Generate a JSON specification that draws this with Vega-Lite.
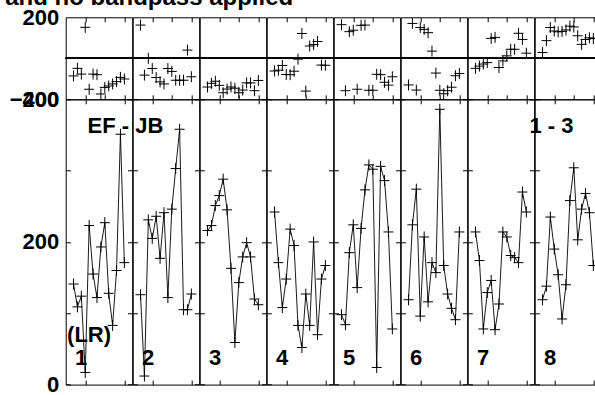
{
  "$schema": "https://vega.github.io/schema/vega-lite/v6.json",
  "autosize": {"type": "none"},
  "padding": {"left": 65.7, "top": 17.3, "right": 529.3, "bottom": 377.7},
  "background": "white",
  "title": {"text": "and no bandpass applied", "anchor": "start", "font": "Liberation Sans", "fontSize": 24, "fontWeight": "bold", "color": "black", "baseline": "alphabetic", "offset": 0, "dx": -4, "dy": 23},
  "config": {
    "font": "Liberation Sans",
    "view": {"stroke": "black", "strokeWidth": 1},
    "axis": {"labelFont": "Liberation Sans", "labelFontSize": 22, "labelFontWeight": "bold", "labelColor": "black", "labelOverlap": false}
  },
  "datasets": {
    "vis": [
      {"IF":1,"ch":2,"amp":141,"phase":-86},{"IF":1,"ch":3,"amp":109,"phase":-49},{"IF":1,"ch":4,"amp":124,"phase":-77},{"IF":1,"ch":5,"amp":17,"phase":151},{"IF":1,"ch":6,"amp":223,"phase":-151},{"IF":1,"ch":7,"amp":155,"phase":-77},{"IF":1,"ch":8,"amp":122,"phase":-80},{"IF":1,"ch":9,"amp":193,"phase":-174},{"IF":1,"ch":10,"amp":227,"phase":-142},{"IF":1,"ch":11,"amp":128,"phase":-135},{"IF":1,"ch":12,"amp":83,"phase":-125},{"IF":1,"ch":13,"amp":160,"phase":-114},{"IF":1,"ch":14,"amp":351,"phase":-93},{"IF":1,"ch":15,"amp":171,"phase":-101},
      {"IF":2,"ch":2,"amp":126,"phase":162},{"IF":2,"ch":3,"amp":12,"phase":-82},{"IF":2,"ch":4,"amp":231,"phase":0},{"IF":2,"ch":5,"amp":205,"phase":-50},{"IF":2,"ch":6,"amp":236,"phase":-94},{"IF":2,"ch":7,"amp":177,"phase":-115},{"IF":2,"ch":8,"amp":241,"phase":-125},{"IF":2,"ch":9,"amp":122,"phase":-50},{"IF":2,"ch":10,"amp":246,"phase":-64},{"IF":2,"ch":11,"amp":303,"phase":-107},{"IF":2,"ch":12,"amp":358,"phase":-107},{"IF":2,"ch":13,"amp":105,"phase":-107},{"IF":2,"ch":14,"amp":105,"phase":40},{"IF":2,"ch":15,"amp":127,"phase":-90},
      {"IF":3,"ch":2,"amp":216,"phase":-140},{"IF":3,"ch":3,"amp":223,"phase":-122},{"IF":3,"ch":4,"amp":251,"phase":-112},{"IF":3,"ch":5,"amp":265,"phase":-132},{"IF":3,"ch":6,"amp":288,"phase":-168},{"IF":3,"ch":7,"amp":245,"phase":-150},{"IF":3,"ch":8,"amp":163,"phase":-140},{"IF":3,"ch":9,"amp":59,"phase":-146},{"IF":3,"ch":10,"amp":143,"phase":-168},{"IF":3,"ch":11,"amp":179,"phase":-155},{"IF":3,"ch":12,"amp":199,"phase":-120},{"IF":3,"ch":13,"amp":179,"phase":-120},{"IF":3,"ch":14,"amp":120,"phase":-158},{"IF":3,"ch":15,"amp":112,"phase":-108},
      {"IF":4,"ch":2,"amp":242,"phase":-62},{"IF":4,"ch":3,"amp":171,"phase":-58},{"IF":4,"ch":4,"amp":108,"phase":-35},{"IF":4,"ch":5,"amp":148,"phase":-79},{"IF":4,"ch":6,"amp":218,"phase":-80},{"IF":4,"ch":7,"amp":195,"phase":-63},{"IF":4,"ch":8,"amp":83,"phase":-4},{"IF":4,"ch":9,"amp":52,"phase":121},{"IF":4,"ch":10,"amp":127,"phase":-160},{"IF":4,"ch":11,"amp":83,"phase":60},{"IF":4,"ch":12,"amp":200,"phase":67},{"IF":4,"ch":13,"amp":70,"phase":82},{"IF":4,"ch":14,"amp":148,"phase":-33},{"IF":4,"ch":15,"amp":167,"phase":-34},
      {"IF":5,"ch":2,"amp":98,"phase":164},{"IF":5,"ch":3,"amp":84,"phase":-158},{"IF":5,"ch":4,"amp":185,"phase":130},{"IF":5,"ch":5,"amp":224,"phase":137},{"IF":5,"ch":6,"amp":136,"phase":-151},{"IF":5,"ch":7,"amp":219,"phase":161},{"IF":5,"ch":8,"amp":273,"phase":162},{"IF":5,"ch":9,"amp":308,"phase":-156},{"IF":5,"ch":10,"amp":302,"phase":-156},{"IF":5,"ch":11,"amp":24,"phase":-78},{"IF":5,"ch":12,"amp":306,"phase":-80},{"IF":5,"ch":13,"amp":286,"phase":-117},{"IF":5,"ch":14,"amp":214,"phase":-131},{"IF":5,"ch":15,"amp":78,"phase":-90},
      {"IF":6,"ch":2,"amp":119,"phase":-130},{"IF":6,"ch":3,"amp":224,"phase":170},{"IF":6,"ch":4,"amp":274,"phase":-155},{"IF":6,"ch":5,"amp":96,"phase":150},{"IF":6,"ch":6,"amp":207,"phase":141},{"IF":6,"ch":7,"amp":116,"phase":125},{"IF":6,"ch":8,"amp":171,"phase":35},{"IF":6,"ch":9,"amp":157,"phase":-72},{"IF":6,"ch":10,"amp":386,"phase":-156},{"IF":6,"ch":11,"amp":167,"phase":-173},{"IF":6,"ch":12,"amp":127,"phase":-158},{"IF":6,"ch":13,"amp":107,"phase":-141},{"IF":6,"ch":14,"amp":91,"phase":-85},{"IF":6,"ch":15,"amp":214,"phase":-74},
      {"IF":7,"ch":2,"amp":214,"phase":-49},{"IF":7,"ch":3,"amp":174,"phase":-38},{"IF":7,"ch":4,"amp":78,"phase":-28},{"IF":7,"ch":5,"amp":129,"phase":-21},{"IF":7,"ch":6,"amp":146,"phase":97},{"IF":7,"ch":7,"amp":77,"phase":102},{"IF":7,"ch":8,"amp":113,"phase":-45},{"IF":7,"ch":9,"amp":214,"phase":-13},{"IF":7,"ch":10,"amp":207,"phase":12},{"IF":7,"ch":11,"amp":181,"phase":44},{"IF":7,"ch":12,"amp":178,"phase":44},{"IF":7,"ch":13,"amp":171,"phase":122},{"IF":7,"ch":14,"amp":270,"phase":92},{"IF":7,"ch":15,"amp":242,"phase":25},
      {"IF":8,"ch":2,"amp":119,"phase":28},{"IF":8,"ch":3,"amp":138,"phase":86},{"IF":8,"ch":4,"amp":235,"phase":150},{"IF":8,"ch":5,"amp":190,"phase":133},{"IF":8,"ch":6,"amp":154,"phase":129},{"IF":8,"ch":7,"amp":92,"phase":131},{"IF":8,"ch":8,"amp":140,"phase":138},{"IF":8,"ch":9,"amp":258,"phase":157},{"IF":8,"ch":10,"amp":304,"phase":153},{"IF":8,"ch":11,"amp":203,"phase":110},{"IF":8,"ch":12,"amp":246,"phase":68},{"IF":8,"ch":13,"amp":268,"phase":92},{"IF":8,"ch":14,"amp":241,"phase":100},{"IF":8,"ch":15,"amp":167,"phase":96}
    ]
  },
  "bounds": "flush",
  "spacing": 82,
  "vconcat": [
    {
      "data": {"name": "vis"},
      "facet": {"column": {"field": "IF", "type": "ordinal", "header": {"labels": false, "title": null}}},
      "spacing": 0,
      "bounds": "flush",
      "spec": {
        "width": 66.47,
        "height": 82,
        "layer": [
          {
            "mark": {"type": "point", "shape": "M-1,0H1M0,-1.1V1.1", "size": 100, "filled": false, "stroke": "black", "strokeWidth": 1, "opacity": 1},
            "encoding": {
              "x": {"field": "ch", "type": "quantitative", "scale": {"domain": [0, 17], "nice": false, "zero": false},
                    "axis": {"values": [5, 10, 15], "grid": true, "gridDash": [4.5, 73, 4.5, 0], "gridColor": "black", "gridOpacity": 1, "gridWidth": 1, "labels": false, "ticks": false, "domain": false, "title": null}},
              "y": {"field": "phase", "type": "quantitative", "scale": {"domain": [-200, 200], "nice": false},
                    "axis": {"values": [-200, 200], "grid": false, "ticks": false, "domain": false, "title": null, "labelPadding": 7}}
            }
          },
          {
            "mark": {"type": "rule", "color": "black", "strokeWidth": 1},
            "encoding": {"y": {"datum": 0}}
          }
        ]
      }
    },
    {
      "data": {"name": "vis"},
      "facet": {"column": {"field": "IF", "type": "ordinal", "header": {"labels": false, "title": null}}},
      "spacing": 0,
      "bounds": "flush",
      "spec": {
        "width": 66.47,
        "height": 285.3,
        "layer": [
          {
            "mark": {"type": "line", "color": "black", "strokeWidth": 0.9},
            "encoding": {
              "x": {"field": "ch", "type": "quantitative", "scale": {"domain": [0, 17], "nice": false, "zero": false},
                    "axis": {"values": [5, 10, 15], "grid": true, "gridDash": [4.5, 276.3, 4.5, 0], "gridColor": "black", "gridOpacity": 1, "gridWidth": 1, "labels": false, "ticks": false, "domain": false, "title": null}},
              "y": {"field": "amp", "type": "quantitative", "scale": {"domain": [0, 400], "nice": false},
                    "axis": {"values": [0, 100, 200, 300, 400], "labelExpr": "datum.value % 200 == 0 ? datum.label : ''", "grid": true, "gridDash": [4.7, 57.07, 4.7, 0], "gridColor": "black", "gridOpacity": 1, "gridWidth": 1, "ticks": false, "domain": false, "title": null, "labelPadding": 7}}
            }
          },
          {
            "mark": {"type": "point", "shape": "M-1,0H1M0,-1.1V1.1", "size": 100, "filled": false, "stroke": "black", "strokeWidth": 1, "opacity": 1},
            "encoding": {
              "x": {"field": "ch", "type": "quantitative"},
              "y": {"field": "amp", "type": "quantitative"}
            }
          },
          {
            "transform": [{"filter": "datum.ch == 2"}],
            "mark": {"type": "text", "align": "left", "baseline": "alphabetic", "fontSize": 22, "fontWeight": "bold", "font": "Liberation Sans", "color": "black"},
            "encoding": {"x": {"datum": 2.35}, "y": {"datum": 27}, "text": {"field": "IF"}}
          },
          {
            "transform": [{"filter": "datum.ch == 2 && datum.IF == 1"}],
            "mark": {"type": "text", "align": "left", "baseline": "alphabetic", "fontSize": 22, "fontWeight": "bold", "font": "Liberation Sans", "color": "black"},
            "encoding": {"x": {"datum": 0.35}, "y": {"datum": 60}, "text": {"value": "(LR)"}}
          },
          {
            "transform": [{"filter": "datum.ch == 2 && datum.IF == 1"}],
            "mark": {"type": "text", "align": "left", "baseline": "alphabetic", "fontSize": 22, "fontWeight": "bold", "font": "Liberation Sans", "color": "black"},
            "encoding": {"x": {"datum": 5.6}, "y": {"datum": 353}, "text": {"value": "EF - JB"}}
          },
          {
            "transform": [{"filter": "datum.ch == 2 && datum.IF == 8"}],
            "mark": {"type": "text", "align": "left", "baseline": "alphabetic", "fontSize": 22, "fontWeight": "bold", "font": "Liberation Sans", "color": "black"},
            "encoding": {"x": {"datum": -1.33}, "y": {"datum": 353}, "text": {"value": "1 - 3"}}
          }
        ]
      }
    }
  ]
}
